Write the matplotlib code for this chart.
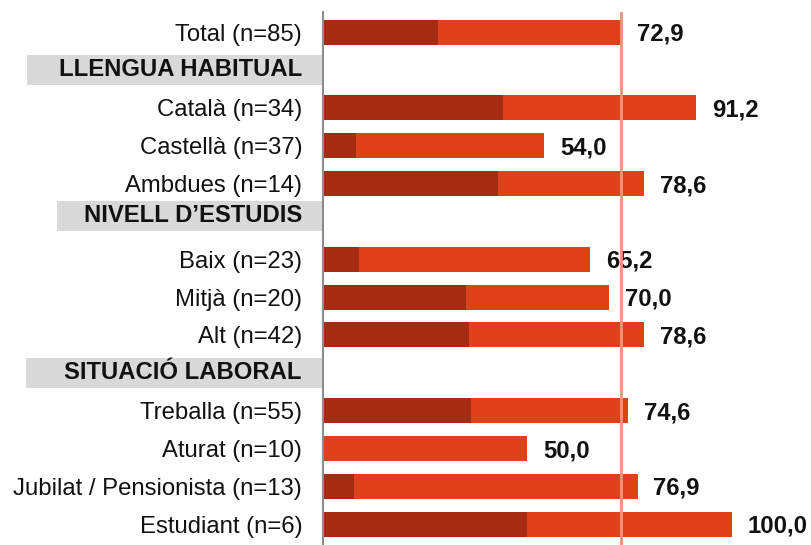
import matplotlib
matplotlib.use("Agg")
import matplotlib.pyplot as plt
from matplotlib.patches import Rectangle
from matplotlib.transforms import blended_transform_factory

plt.rcParams['font.family'] = ['Liberation Sans', 'DejaVu Sans']

# Rows from top to bottom; None marks a section header row
labels = ["Total (n=85)", None, "Català (n=34)", "Castellà (n=37)", "Ambdues (n=14)",
          None, "Baix (n=23)", "Mitjà (n=20)", "Alt (n=42)",
          None, "Treballa (n=55)", "Aturat (n=10)", "Jubilat / Pensionista (n=13)",
          "Estudiant (n=6)"]
headers = {1: "LLENGUA HABITUAL", 5: "NIVELL D\u2019ESTUDIS", 9: "SITUACIÓ LABORAL"}
dark_part = [28.1, None, 44.0, 8.1, 42.8, None, 8.7, 35.0, 35.7, None, 36.2, 0.0, 7.7, 50.0]
totals = [72.9, None, 91.2, 54.0, 78.6, None, 65.2, 70.0, 78.6, None, 74.6, 50.0, 76.9, 100.0]
reference_total = 72.9

DARK = "#A52C12"
ORANGE = "#DF421A"
LINE = "#F19379"
FS = 17.2

W, H = 812, 545
fig = plt.figure(figsize=(W / 100, H / 100), dpi=100)
ax = fig.add_axes([323 / W, 0.0, 1 - 323 / W, 1 - 12 / H])

bar_h = 0.66
for i, (d, t) in enumerate(zip(dark_part, totals)):
    if t is None:
        continue
    ax.barh(i, d, height=bar_h, color=DARK, edgecolor="none", zorder=2)
    ax.barh(i, t - d, left=d, height=bar_h, color=ORANGE, edgecolor="none", zorder=2)
    ax.annotate(f"{t:.1f}".replace(".", ","), xy=(t, i), xytext=(11.5, -1.5),
                textcoords="offset points", va="center", ha="left",
                fontsize=FS, fontweight="bold", color="#111111")

ax.axvline(reference_total, color=LINE, lw=2, zorder=3)

ax.set_xlim(0, (W - 323) / 4.09)
ax.set_ylim(len(labels) - 1 + 0.55, -0.53)

ticks = [i for i, l in enumerate(labels) if l is not None]
ax.set_yticks(ticks)
ax.set_yticklabels([labels[i] for i in ticks], fontsize=FS, color="#111111")
ax.tick_params(axis="y", length=0, pad=15)
ax.set_xticks([])
for s in ["top", "right", "bottom"]:
    ax.spines[s].set_visible(False)
ax.spines["left"].set_color("#8c8c8c")
ax.spines["left"].set_linewidth(1.5)

# Section headers with grey background boxes reaching the axis
trans = blended_transform_factory(fig.transFigure, ax.transData)
box_left_px = {1: 27, 5: 57, 9: 26}
label_right = 302
for row, text in headers.items():
    y = row - 0.15 if row == 5 else row
    fig.text(label_right / W, y, text, fontsize=FS, fontweight="bold",
             ha="right", va="center", transform=trans, color="#111111", zorder=5)
    left = box_left_px[row] / W
    rect = Rectangle((left, y - 0.4), 322 / W - left, 0.8, transform=trans,
                     facecolor="#D9D9D9", edgecolor="none", clip_on=False, zorder=1)
    fig.add_artist(rect)

fig.savefig("out.png", dpi=100)
